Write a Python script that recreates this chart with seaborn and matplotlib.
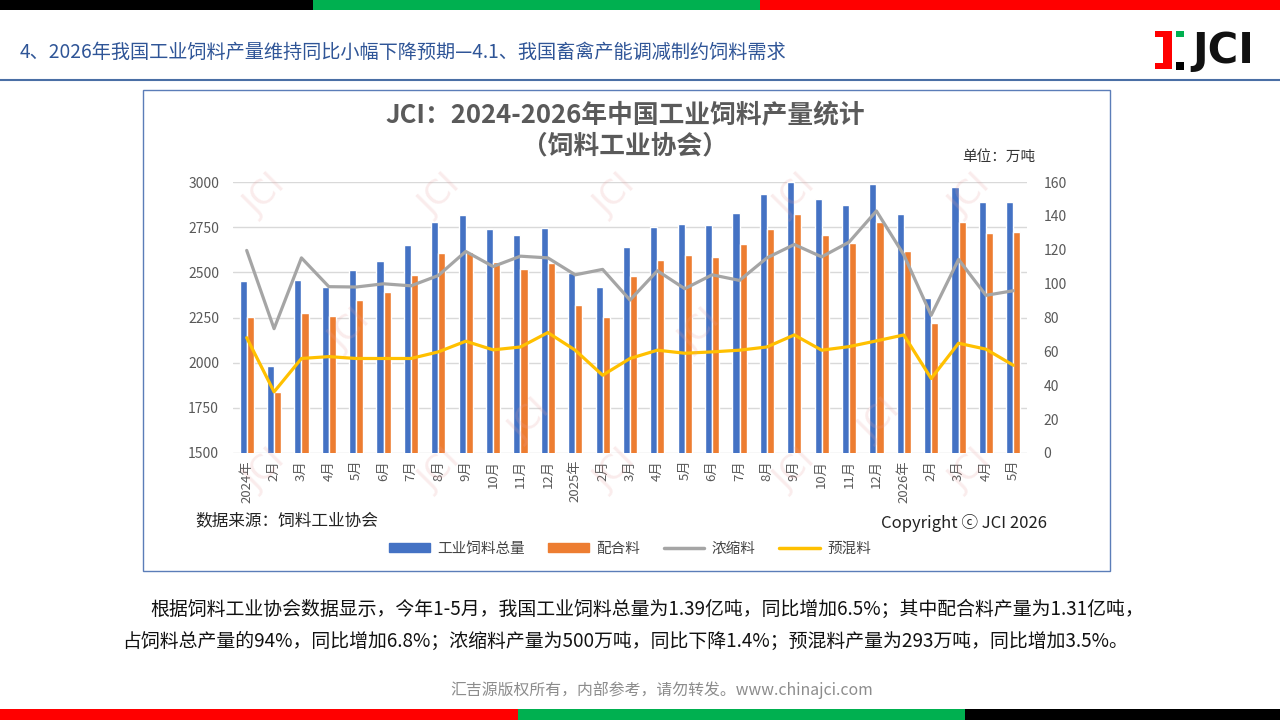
import matplotlib
matplotlib.use("Agg")
import matplotlib.pyplot as plt
import matplotlib.patches as mpatches
from matplotlib.lines import Line2D
import seaborn as sns
import pandas as pd
import numpy as np

# ---------------- data ----------------
labels = ['2024年', '2月', '3月', '4月', '5月', '6月', '7月', '8月', '9月', '10月', '11月', '12月',
          '2025年', '2月', '3月', '4月', '5月', '6月', '7月', '8月', '9月', '10月', '11月', '12月',
          '2026年', '2月', '3月', '4月', '5月']
total = [2452, 1982, 2457, 2420, 2512, 2562, 2649, 2781, 2816, 2741, 2709, 2748,
         2494, 2418, 2639, 2752, 2768, 2764, 2831, 2934, 2998, 2906, 2871, 2987,
         2825, 2358, 2972, 2888, 2890]
compound = [2251, 1835, 2277, 2257, 2347, 2393, 2483, 2606, 2612, 2556, 2516, 2549,
            2321, 2251, 2481, 2569, 2595, 2586, 2656, 2739, 2825, 2709, 2665, 2777,
            2619, 2220, 2776, 2717, 2726]
concentrate = [119.6, 73.4, 115.2, 98.2, 98.0, 99.9, 98.7, 104.8, 119.0, 110.1, 116.2, 115.2,
               105.2, 108.4, 90.3, 107.6, 97.0, 105.2, 101.9, 115.2, 123.1, 115.8, 124.5, 142.9,
               117.0, 81.3, 114.3, 93.1, 95.8]
premix = [68.1, 36.1, 55.8, 56.9, 55.8, 55.8, 55.8, 59.7, 66.0, 60.9, 62.6, 71.1,
          60.7, 45.9, 55.8, 60.7, 58.9, 59.7, 60.7, 62.6, 69.7, 60.7, 62.8, 66.2,
          69.7, 44.0, 64.8, 61.3, 51.8]
series_names = ['工业饲料总量', '配合料', '浓缩料', '预混料']
colors = ['#4472C4', '#ED7D31', '#A5A5A5', '#FFC000']

header = '4、2026年我国工业饲料产量维持同比小幅下降预期—4.1、我国畜禽产能调减制约饲料需求'
title1 = 'JCI：2024-2026年中国工业饲料产量统计'
title2 = '（饲料工业协会）'
unit_text = '单位：万吨'
source_text = '数据来源：饲料工业协会'
copyright_text = 'Copyright ⓒ JCI 2026'
body1 = '根据饲料工业协会数据显示，今年1-5月，我国工业饲料总量为1.39亿吨，同比增加6.5%；其中配合料产量为1.31亿吨，'
body2 = '占饲料总产量的94%，同比增加6.8%；浓缩料产量为500万吨，同比下降1.4%；预混料产量为293万吨，同比增加3.5%。'
footer = '汇吉源版权所有，内部参考，请勿转发。www.chinajci.com'

# ---------------- style ----------------
sns.set_theme(style='white')
plt.rcParams['font.family'] = ['Noto Sans CJK SC', 'DejaVu Sans']
plt.rcParams['axes.unicode_minus'] = False

W, H = 1280, 720
fig = plt.figure(figsize=(12.8, 7.2), dpi=100)
fig.patch.set_facecolor('white')

def fx(x):
    return x / W

def fy(y):
    return 1 - y / H

# ---------------- slide decorations ----------------
def frect(x0, y0, x1, y1, color, **kw):
    fig.patches.append(mpatches.Rectangle((fx(x0), fy(y1)), fx(x1) - fx(x0), fy(y0) - fy(y1),
                                          transform=fig.transFigure, facecolor=color,
                                          edgecolor='none', **kw))

# top stripe
frect(0, 0, 313, 10, '#000000')
frect(313, 0, 760, 10, '#00B050')
frect(760, 0, 1280, 10, '#FF0000')
# bottom stripe
frect(0, 709, 518, 720, '#FF0000')
frect(518, 709, 965, 720, '#00B050')
frect(965, 709, 1280, 720, '#000000')

# header
fig.text(fx(20), fy(52), header, fontsize=13.8, color='#2F5597', va='center', ha='left')
fig.add_artist(Line2D([0, 1], [fy(80), fy(80)], transform=fig.transFigure,
                      color='#4A6FA5', linewidth=1.5))

# logo
frect(1155, 31, 1172, 37, '#FF0000')
frect(1163, 31, 1172, 69, '#FF0000')
frect(1155, 63, 1172, 69, '#FF0000')
frect(1176, 31, 1184, 37, '#00B050')
frect(1176, 62, 1184, 70, '#000000')
fig.text(fx(1192), fy(51), 'JCI', fontsize=30, fontweight='bold', color='#111111',
         family=['DejaVu Sans'], va='center', ha='left')

# chart box
fig.patches.append(mpatches.Rectangle((fx(143), fy(571)), fx(1110) - fx(143), fy(90) - fy(571),
                                      transform=fig.transFigure, facecolor='none',
                                      edgecolor='#5B7DB8', linewidth=1.0, zorder=-1))

# ---------------- chart ----------------
ax = fig.add_axes([fx(233), fy(453), fx(1027) - fx(233), fy(182) - fy(453)])
ax.set_facecolor('none')

n = len(labels)
idx = list(range(n))
bar_df = pd.DataFrame({
    'idx': idx * 2,
    'value': total + compound,
    'series': [series_names[0]] * n + [series_names[1]] * n,
})
sns.barplot(data=bar_df, x='idx', y='value', hue='series',
            palette=colors[:2], width=0.52, gap=0, ax=ax, legend=False,
            saturation=1, zorder=2)
ax.set_ylim(1500, 3000)
ax.set_yticks(np.arange(1500, 3001, 250))
ax.set_xlim(-0.5, n - 0.5)
ax.set_xticks(idx)
ax.set_xticklabels(labels, rotation=90, fontsize=9.5, color='#595959')
ax.tick_params(axis='x', length=0, pad=5)
ax.tick_params(axis='y', length=0, pad=10, labelsize=10, labelcolor='#595959')
ax.set_xlabel('')
ax.set_ylabel('')
ax.yaxis.grid(True, color='#D9D9D9', linewidth=1)
ax.set_axisbelow(True)
for s in ax.spines.values():
    s.set_visible(False)

ax2 = ax.twinx()
line_df = pd.DataFrame({
    'idx': idx * 2,
    'value': concentrate + premix,
    'series': [series_names[2]] * n + [series_names[3]] * n,
})
sns.lineplot(data=line_df, x='idx', y='value', hue='series', palette=colors[2:],
             linewidth=2.3, ax=ax2, legend=False, sort=False)
ax2.set_ylim(0, 160)
ax2.set_yticks(np.arange(0, 161, 20))
ax2.tick_params(axis='y', length=0, pad=12, labelsize=10, labelcolor='#595959')
ax2.set_xlabel('')
ax2.set_ylabel('')
ax2.grid(False)
for s in ax2.spines.values():
    s.set_visible(False)
ax2.set_xlim(-0.5, n - 0.5)

# watermarks
wm_pos = [(265, 195), (440, 195), (615, 195), (795, 195), (970, 195),
          (265, 470), (440, 470), (615, 470), (795, 470), (970, 470),
          (530, 420), (880, 420), (700, 330), (350, 330)]
for (wx, wy) in wm_pos:
    fig.text(fx(wx), fy(wy), 'JCI', fontsize=24, color='#E8A0A0', alpha=0.2,
             rotation=45, ha='center', va='center', family=['DejaVu Sans'], zorder=1)

# titles and notes
fig.text(fx(625), fy(116), title1, fontsize=18.5, color='#5A5A5A', ha='center', va='center',
         fontweight='bold')
fig.text(fx(625), fy(146), title2, fontsize=18.5, color='#5A5A5A', ha='center', va='center',
         fontweight='bold')
fig.text(fx(1035), fy(157), unit_text, fontsize=10.5, color='#333333', ha='right', va='center')
fig.text(fx(195), fy(521), source_text, fontsize=12, color='#222222', ha='left', va='center')
fig.text(fx(1047), fy(523), copyright_text, fontsize=12, color='#222222', ha='right', va='center')

# legend
handles = [mpatches.Patch(color=colors[0], label=series_names[0]),
           mpatches.Patch(color=colors[1], label=series_names[1]),
           Line2D([0], [0], color=colors[2], linewidth=2.5, label=series_names[2]),
           Line2D([0], [0], color=colors[3], linewidth=2.5, label=series_names[3])]
fig.legend(handles=handles, loc='center', bbox_to_anchor=(fx(630), fy(549)), ncol=4,
           frameon=False, fontsize=10.5, handlelength=2.8, handleheight=0.6,
           columnspacing=1.6, handletextpad=0.5, labelcolor='#444444')

# body text
fig.text(fx(150), fy(609), body1, fontsize=13.6, color='#111111', ha='left', va='center')
fig.text(fx(122), fy(641), body2, fontsize=13.6, color='#111111', ha='left', va='center')
fig.text(fx(662), fy(690), footer, fontsize=11.4, color='#8C8C8C', ha='center', va='center')

fig.savefig('out.png', dpi=100, facecolor='white')
